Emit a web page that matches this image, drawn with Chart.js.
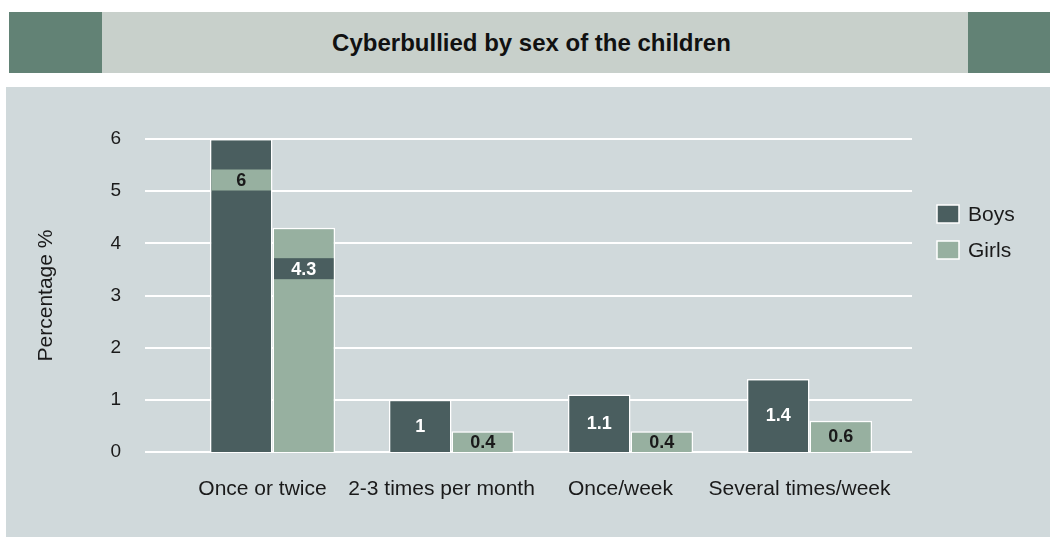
<!DOCTYPE html>
<html>
<head>
<meta charset="utf-8">
<script src="https://cdn.jsdelivr.net/npm/chart.js@4.4.0/dist/chart.umd.min.js"></script>
<style>
  body { margin: 0; background: #fff; font-family: 'Liberation Sans', Arial, sans-serif; }
  .box { position: absolute; }
  #headLeft { left: 9px; top: 12px; width: 93px; height: 61px; background: #628275; }
  #headMid { left: 102px; top: 12px; width: 866px; height: 61px; background: #c8d0cb; }
  #headRight { left: 968px; top: 12px; width: 82px; height: 61px; background: #628275; }
  #title { left: 9px; top: 12px; width: 1045px; height: 61px; line-height: 61px; text-align: center;
           font-weight: bold; font-size: 24px; color: #111; }
  #panel { left: 6px; top: 87px; width: 1044px; height: 450px; background: #d0d9db; }
</style>
</head>
<body>
<div class="box" id="headLeft"></div>
<div class="box" id="headMid"></div>
<div class="box" id="headRight"></div>
<div class="box" id="title">Cyberbullied by sex of the children</div>
<div class="box" id="panel"><canvas id="canvas" width="1044" height="450"></canvas></div>
<script>
const categories = ['Once or twice', '2-3 times per month', 'Once/week', 'Several times/week'];
const boys = [6, 1, 1.1, 1.4];
const girls = [4.3, 0.4, 0.4, 0.6];
const yTicks = [0, 1, 2, 3, 4, 5, 6];

const BOYS = '#4a5e5f';
const GIRLS = '#97b0a0';
const FONT = "'Liberation Sans', Arial, sans-serif";

// white grid lines, wider than the plot area like the original
const gridPlugin = {
  id: 'grid',
  beforeDatasetsDraw(chart) {
    const { ctx } = chart;
    const y = chart.scales.y;
    ctx.save();
    ctx.strokeStyle = '#fff';
    ctx.lineWidth = 2;
    yTicks.forEach((t) => {
      const py = Math.round(y.getPixelForValue(t));
      ctx.beginPath();
      ctx.moveTo(139, py);
      ctx.lineTo(906, py);
      ctx.stroke();
    });
    ctx.restore();
  },
};

// value labels, with a band in the other colour on the tall bars
const labelPlugin = {
  id: 'labels',
  afterDatasetsDraw(chart) {
    const { ctx } = chart;
    const colors = chart.data.datasets.map((d) => d.backgroundColor);
    ctx.save();
    ctx.font = 'bold 18px ' + FONT;
    ctx.textAlign = 'center';
    ctx.textBaseline = 'middle';
    chart.data.datasets.forEach((ds, di) => {
      chart.getDatasetMeta(di).data.forEach((bar, i) => {
        const h = bar.base - bar.y;
        const cy = bar.y + Math.min(h / 2, 41);
        let bg = colors[di];
        if (h > 150) {
          bg = colors[1 - di];
          ctx.fillStyle = bg;
          ctx.fillRect(bar.x - bar.width / 2 + 1.5, cy - 10.5, bar.width - 3, 21);
        }
        ctx.fillStyle = bg === BOYS ? '#fff' : '#1a1a1a';
        ctx.fillText(ds.data[i], bar.x, cy + 1);
      });
    });
    ctx.restore();
  },
};

const legendPlugin = {
  id: 'sideLegend',
  afterDraw(chart) {
    const { ctx } = chart;
    ctx.save();
    ctx.font = '21px ' + FONT;
    ctx.textBaseline = 'middle';
    chart.data.datasets.forEach((ds, i) => {
      const top = 118 + i * 36;
      ctx.fillStyle = ds.backgroundColor;
      ctx.fillRect(931, top, 22, 18);
      ctx.strokeStyle = '#fff';
      ctx.lineWidth = 1.5;
      ctx.strokeRect(931, top, 22, 18);
      ctx.fillStyle = '#1a1a1a';
      ctx.fillText(ds.label, 962, top + 10);
    });
    ctx.restore();
  },
};

new Chart(document.getElementById('canvas'), {
  type: 'bar',
  data: {
    labels: categories,
    datasets: [
      { label: 'Boys', data: boys, backgroundColor: BOYS, borderColor: '#fff', borderWidth: 1.5 },
      { label: 'Girls', data: girls, backgroundColor: GIRLS, borderColor: '#fff', borderWidth: 1.5 },
    ],
  },
  options: {
    responsive: false,
    devicePixelRatio: 1,
    animation: false,
    layout: { padding: { left: 28, right: 151, top: 52, bottom: 0 } },
    datasets: { bar: { barPercentage: 1, categoryPercentage: 0.7 } },
    plugins: {
      legend: { display: false },
      tooltip: { enabled: false },
    },
    scales: {
      x: {
        grid: { display: false, drawTicks: false },
        border: { display: false },
        ticks: { color: '#1a1a1a', font: { family: FONT, size: 21 }, padding: 25, labelOffset: -10, maxRotation: 0, autoSkip: false },
        afterFit: (s) => { s.height = 85; },
      },
      y: {
        min: 0,
        max: 6,
        grid: { display: false, drawTicks: false },
        border: { display: false },
        ticks: { stepSize: 1, color: '#1a1a1a', font: { family: FONT, size: 19 }, padding: 62 },
        title: { display: true, text: 'Percentage %', color: '#1a1a1a', font: { family: FONT, size: 21 }, padding: 0 },
        // big tick padding would otherwise push the plot top down
        afterFit: (s) => { s.width = 149; s.paddingTop = 12; s.paddingBottom = 12; },
      },
    },
  },
  plugins: [gridPlugin, labelPlugin, legendPlugin],
});
</script>
</body>
</html>
